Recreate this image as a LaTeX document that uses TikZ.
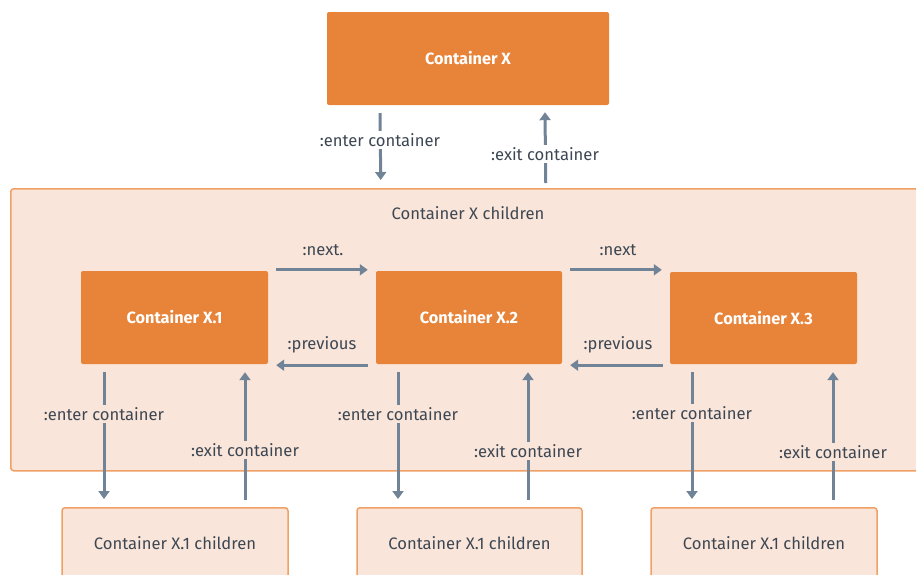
\documentclass[tikz,border=0pt]{standalone}
\usepackage{fontspec}
\setmainfont{Fira Sans}
\usetikzlibrary{calc,arrows.meta}
\definecolor{orangebox}{HTML}{E8843A}
\definecolor{peach}{HTML}{F9E5D9}
\definecolor{peachline}{HTML}{F0A064}
\definecolor{arrowgray}{HTML}{718396}
\definecolor{textgray}{HTML}{3D4753}
\tikzset{
  solidbox/.style={draw=none, fill=orangebox, rounded corners=2pt, text=white,
    font=\fontsize{16.3}{18}\selectfont\bfseries, inner sep=0pt},
  childbox/.style={draw=peachline, line width=1.5pt, fill=peach, rounded corners=3pt,
    text=textgray, font=\fontsize{16.6}{18}\selectfont, inner sep=0pt},
  arr/.style={draw=arrowgray, line width=3pt, -{Triangle[width=11pt,length=8pt]}},
  lbl/.style={text=textgray, font=\fontsize{16.6}{18}\selectfont, inner sep=2pt},
  lblw/.style={lbl, fill=white},
  lblp/.style={lbl, fill=peach}
}
\begin{document}
\begin{tikzpicture}[x=1pt,y=-1pt]
\useasboundingbox (0,0) rectangle (916,574);
\fill[white] (0,0) rectangle (916,574);
% big container
\node[childbox, minimum width=916pt, minimum height=282pt, anchor=north west] (big) at (10,188) {};
\node[lbl] (bigl) at (468,213) {Container X children};
% top
\node[solidbox, minimum width=282pt, minimum height=93pt] (X) at (468,58.5) {Container X};
% children
\node[solidbox, minimum width=187pt, minimum height=93pt] (X1) at (174.5,317.5) {Container X.1};
\node[solidbox, minimum width=186pt, minimum height=93pt] (X2) at (469,317.5) {Container X.2};
\node[solidbox, minimum width=187pt, minimum height=92pt] (X3) at (763.5,318) {Container X.3};
% bottom child boxes
\node[childbox, minimum width=226pt, minimum height=90pt, anchor=north] (C1) at (175,507) {};
\node[childbox, minimum width=225pt, minimum height=90pt, anchor=north] (C2) at (469.5,507) {};
\node[childbox, minimum width=226pt, minimum height=90pt, anchor=north] (C3) at (764,507) {};
\node[lbl] (C1l) at (175,543) {Container X.1 children};
\node[lbl] (C2l) at (469.5,543) {Container X.1 children};
\node[lbl] (C3l) at (764,543) {Container X.1 children};
% top arrows
\draw[arr] ($(X.south)+(-88,8)$) -- ($(big.north)+(-88,-8)$);
\node[lblw] at (380,140) {:enter container};
\draw[arr] ($(big.north)+(77,-5)$) -- ($(X.south)+(77,7)$);
\node[lblw] at (545,154) {:exit container};
% next / previous
\draw[arr] ($(X1.north east)+(8,-1)$) -- ($(X2.north west)+(-8,-1)$);
\node[lbl] at (323,250) {:next.};
\draw[arr] ($(X2.south west)+(-8,1)$) -- ($(X1.south east)+(8,1)$);
\node[lbl] at (322,345) {:previous};
\draw[arr] ($(X2.north east)+(8,-1)$) -- ($(X3.north west)+(-8,-2)$);
\node[lbl] at (618,250) {:next};
\draw[arr] ($(X3.south west)+(-7,1)$) -- ($(X2.south east)+(8,1)$);
\node[lbl] at (618,345) {:previous};
% X.1 enter/exit
\draw[arr] ($(X1.south)+(-70.5,8)$) -- ($(C1.north)+(-71,-8)$);
\node[lblp] at (104,414) {:enter container};
\draw[arr] ($(C1.north)+(70,-7)$) -- ($(X1.south)+(70.5,8)$);
\node[lblp] at (245,450) {:exit container};
% X.2 enter/exit
\draw[arr] ($(X2.south)+(-71,8)$) -- ($(C2.north)+(-71.5,-8)$);
\node[lblp] at (398,414) {:enter container};
\draw[arr] ($(C2.north)+(58.5,-7)$) -- ($(X2.south)+(59,8)$);
\node[lblp] at (528,451) {:exit container};
% X.3 enter/exit
\draw[arr] ($(X3.south)+(-71.5,8)$) -- ($(C3.north)+(-72,-8)$);
\node[lblp] at (692,413) {:enter container};
\draw[arr] ($(C3.north)+(69,-7)$) -- ($(X3.south)+(69.5,8)$);
\node[lblp] at (833,452) {:exit container};
\end{tikzpicture}
\end{document}
